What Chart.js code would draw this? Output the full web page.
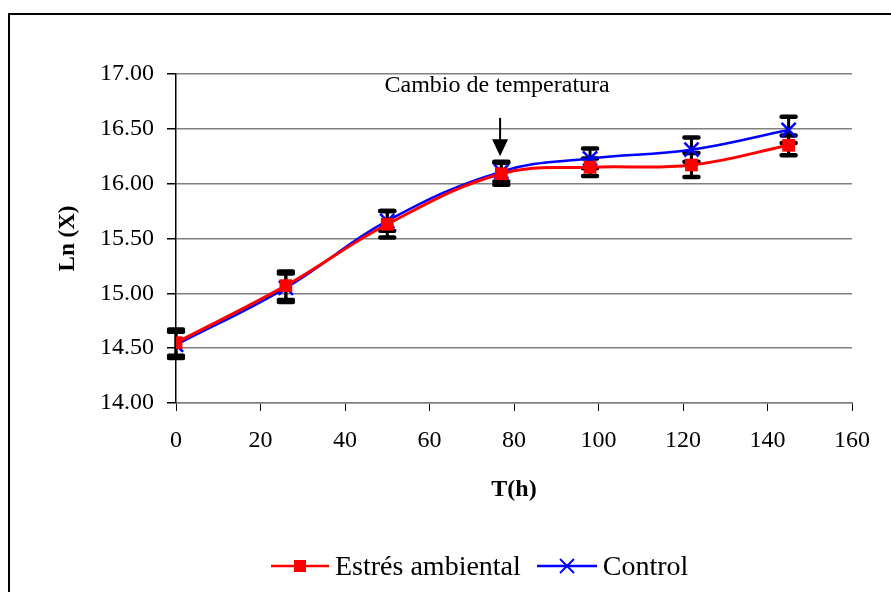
<!DOCTYPE html>
<html>
<head>
<meta charset="utf-8">
<script src="https://cdn.jsdelivr.net/npm/chart.js@4.4.0/dist/chart.umd.min.js"></script>
<style>
  body { margin: 0; background: #fff; }
  #frame { position: absolute; left: 8px; top: 13px; width: 900px; height: 600px; border: 2px solid #000; box-sizing: border-box; }
  #wrap { position: absolute; left: 0; top: 0; width: 891px; height: 592px; }
  #legend { position: absolute; left: 270px; top: 547px; font-family: "Liberation Serif", "Times New Roman", serif; font-size: 28px; color: #000; white-space: nowrap; }
  #legend span { display: inline-block; vertical-align: middle; margin-left: 5px; }
  #legend svg { vertical-align: middle; }
</style>
</head>
<body>
<div id="frame"></div>
<div id="wrap"><canvas id="chart" width="891" height="592"></canvas></div>
<div id="legend">
  <svg width="60" height="20"><line x1="1" y1="10" x2="59" y2="10" stroke="#ff0000" stroke-width="2.5"/><rect x="24" y="4" width="12" height="12" fill="#ff0000"/></svg><span>Estrés ambiental</span>
  <svg width="62" height="20" style="margin-left:8px"><line x1="1" y1="10" x2="61" y2="10" stroke="#0000ff" stroke-width="2.5"/><line x1="24" y1="3" x2="38" y2="17" stroke="#0000ff" stroke-width="2"/><line x1="38" y1="3" x2="24" y2="17" stroke="#0000ff" stroke-width="2"/></svg><span>Control</span>
</div>
<script>
// data
var hours = [0, 26, 50, 77, 98, 122, 145];
var estres = [14.55, 15.07, 15.63, 16.09, 16.15, 16.17, 16.35];
var estresErr = [0.12, 0.13, 0.12, 0.10, 0.08, 0.11, 0.09];
var control = [14.53, 15.05, 15.66, 16.11, 16.23, 16.31, 16.49];
var controlErr = [0.12, 0.13, 0.09, 0.09, 0.09, 0.11, 0.12];

// annotation: "Cambio de temperatura" with arrow
var noteText = "Cambio de temperatura";
var noteX = 76;
var noteY = 16.89;
var arrowFrom = 16.60;
var arrowTo = 16.25;

var serif = "'Liberation Serif', 'Times New Roman', serif";

function toPoints(xs, ys) {
  let pts = [];
  for (let i = 0; i < xs.length; i++) pts.push({ x: xs[i], y: ys[i] });
  return pts;
}

// error bars drawn under the markers
var errorBars = {
  id: "errorBars",
  beforeDatasetsDraw(chart) {
    const ctx = chart.ctx, xs = chart.scales.x, ys = chart.scales.y;
    const sets = [[estres, estresErr], [control, controlErr]];
    ctx.save();
    ctx.strokeStyle = "#000";
    sets.forEach(function (s) {
      for (let i = 0; i < hours.length; i++) {
        const px = xs.getPixelForValue(hours[i]);
        const top = ys.getPixelForValue(s[0][i] + s[1][i]);
        const bot = ys.getPixelForValue(s[0][i] - s[1][i]);
        ctx.lineCap = "butt";
        ctx.lineWidth = 3;
        ctx.beginPath();
        ctx.moveTo(px, top);
        ctx.lineTo(px, bot);
        ctx.stroke();
        ctx.lineCap = "round";
        ctx.lineWidth = 4.5;
        ctx.beginPath();
        ctx.moveTo(px - 7, top); ctx.lineTo(px + 7, top);
        ctx.moveTo(px - 7, bot); ctx.lineTo(px + 7, bot);
        ctx.stroke();
      }
    });
    ctx.restore();
  },
  afterDraw(chart) {
    const ctx = chart.ctx, xs = chart.scales.x, ys = chart.scales.y;
    ctx.save();
    ctx.fillStyle = "#000";
    ctx.strokeStyle = "#000";
    ctx.font = "24px " + serif;
    ctx.textAlign = "center";
    ctx.textBaseline = "middle";
    ctx.fillText(noteText, xs.getPixelForValue(noteX), ys.getPixelForValue(noteY));
    const ax = xs.getPixelForValue(noteX) + 3;
    const a1 = ys.getPixelForValue(arrowFrom);
    const a2 = ys.getPixelForValue(arrowTo);
    ctx.lineWidth = 2;
    ctx.beginPath();
    ctx.moveTo(ax, a1);
    ctx.lineTo(ax, a2 - 14);
    ctx.stroke();
    ctx.beginPath();
    ctx.moveTo(ax - 8, a2 - 17);
    ctx.lineTo(ax + 8, a2 - 17);
    ctx.lineTo(ax, a2);
    ctx.closePath();
    ctx.fill();
    ctx.restore();
  }
};

new Chart(document.getElementById("chart"), {
  type: "line",
  data: {
    datasets: [
      {
        label: "Estrés ambiental",
        data: toPoints(hours, estres),
        borderColor: "#ff0000",
        backgroundColor: "#ff0000",
        borderWidth: 3,
        pointStyle: "rect",
        pointRadius: 9,
        pointBorderWidth: 0,
        tension: 0.4
      },
      {
        label: "Control",
        data: toPoints(hours, control),
        borderColor: "#0000ff",
        backgroundColor: "#0000ff",
        borderWidth: 2.5,
        pointStyle: "crossRot",
        pointRadius: 10,
        pointBorderWidth: 2.5,
        tension: 0.4
      }
    ]
  },
  options: {
    responsive: false,
    animation: false,
    layout: { padding: { left: 54, top: 74, right: 39, bottom: 88 } },
    plugins: {
      legend: { display: false },
      tooltip: { enabled: false }
    },
    scales: {
      x: {
        type: "linear",
        min: 0,
        max: 160,
        afterFit: function (s) { s.height = 101; },
        ticks: { stepSize: 20, color: "#000", padding: 15, font: { family: serif, size: 24 } },
        grid: { drawOnChartArea: false, tickLength: 8, tickColor: "#000" },
        border: { color: "#808080", width: 1.5 },
        title: { display: true, text: "T(h)", color: "#000", padding: 0, font: { family: serif, size: 24, weight: "bold" } }
      },
      y: {
        min: 14,
        max: 17,
        afterFit: function (s) { s.width = 122; },
        ticks: {
          stepSize: 0.5,
          color: "#000",
          padding: 13,
          font: { family: serif, size: 24 },
          callback: function (v) { return v.toFixed(2); }
        },
        grid: { color: "#808080", lineWidth: 1.5, tickLength: 9, tickColor: "#000" },
        border: { color: "#000", width: 1.5 },
        title: { display: true, text: "Ln (X)", color: "#000", padding: 0, font: { family: serif, size: 23, weight: "bold" } }
      }
    }
  },
  plugins: [errorBars]
});
</script>
</body>
</html>
